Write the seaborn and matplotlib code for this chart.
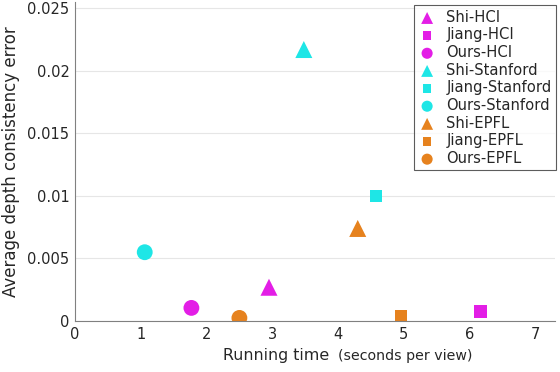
import seaborn as sns
import matplotlib.pyplot as plt
import pandas as pd

# values
labels = ["Shi-HCI", "Jiang-HCI", "Ours-HCI",
          "Shi-Stanford", "Jiang-Stanford", "Ours-Stanford",
          "Shi-EPFL", "Jiang-EPFL", "Ours-EPFL"]
run_time = [2.95, 6.17, 1.77, 3.48, 4.58, 1.06, 4.30, 4.96, 2.50]
depth_err = [0.0027, 0.00075, 0.00105, 0.0217, 0.0100, 0.0055, 0.0074, 0.0004, 0.00025]
method = ["Shi", "Jiang", "Ours"] * 3
dataset = ["HCI"] * 3 + ["Stanford"] * 3 + ["EPFL"] * 3

df = pd.DataFrame({"label": labels, "time": run_time, "err": depth_err,
                   "method": method, "dataset": dataset})

colors = {"HCI": "#e31ee6", "Stanford": "#1ee6e6", "EPFL": "#e6821e"}
markers = {"Shi": "^", "Jiang": "s", "Ours": "o"}
sizes = {"Shi": 150, "Jiang": 80, "Ours": 130}

sns.set_style("white")
plt.rcParams["font.family"] = ["DejaVu Sans"]
txt = "#262626"

fig = plt.figure(figsize=(5.6, 3.72), dpi=100)
ax = fig.add_axes([0.134, 0.137, 0.857, 0.857])

for _, r in df.iterrows():
    sns.scatterplot(x=[r["time"]], y=[r["err"]], ax=ax, marker=markers[r["method"]],
                    s=sizes[r["method"]], color=colors[r["dataset"]],
                    edgecolor="none", label=r["label"])

ax.set_xlim(0, 7.3)
ax.set_ylim(0, 0.02548)
ax.set_xticks(range(0, 8))
ax.set_yticks([0, 0.005, 0.01, 0.015, 0.02, 0.025])
ax.set_yticklabels(["0", "0.005", "0.01", "0.015", "0.02", "0.025"])
ax.yaxis.grid(True, color="#e6e6e6", linewidth=0.8)
ax.set_axisbelow(True)
for s in ["top", "right"]:
    ax.spines[s].set_visible(False)
for s in ["left", "bottom"]:
    ax.spines[s].set_color("#808080")
ax.tick_params(direction="in", length=3, color="#808080", labelsize=10.5,
               labelcolor=txt, pad=4)
ax.set_xlabel("")
ax.set_ylabel("Average depth consistency error", fontsize=12, color=txt)
ax.yaxis.set_label_coords(-0.115, 0.5)

t1 = fig.text(0.398, 0.033, "Running time", fontsize=11.4, color=txt)
ax.annotate("  (seconds per view)", xy=(1, 0), xycoords=t1, fontsize=10.2,
            color=txt, va="bottom")

leg = ax.legend(loc="upper right", bbox_to_anchor=(1.002, 0.99), borderaxespad=0,
                fontsize=10.6, frameon=True, fancybox=False, handlelength=1.2,
                handletextpad=0.7, borderpad=0.3, labelspacing=0.18,
                markerscale=0.7)
leg.get_frame().set_edgecolor("#333333")
leg.get_frame().set_linewidth(0.8)
for t in leg.get_texts():
    t.set_color(txt)

fig.savefig("out.png", dpi=100)
